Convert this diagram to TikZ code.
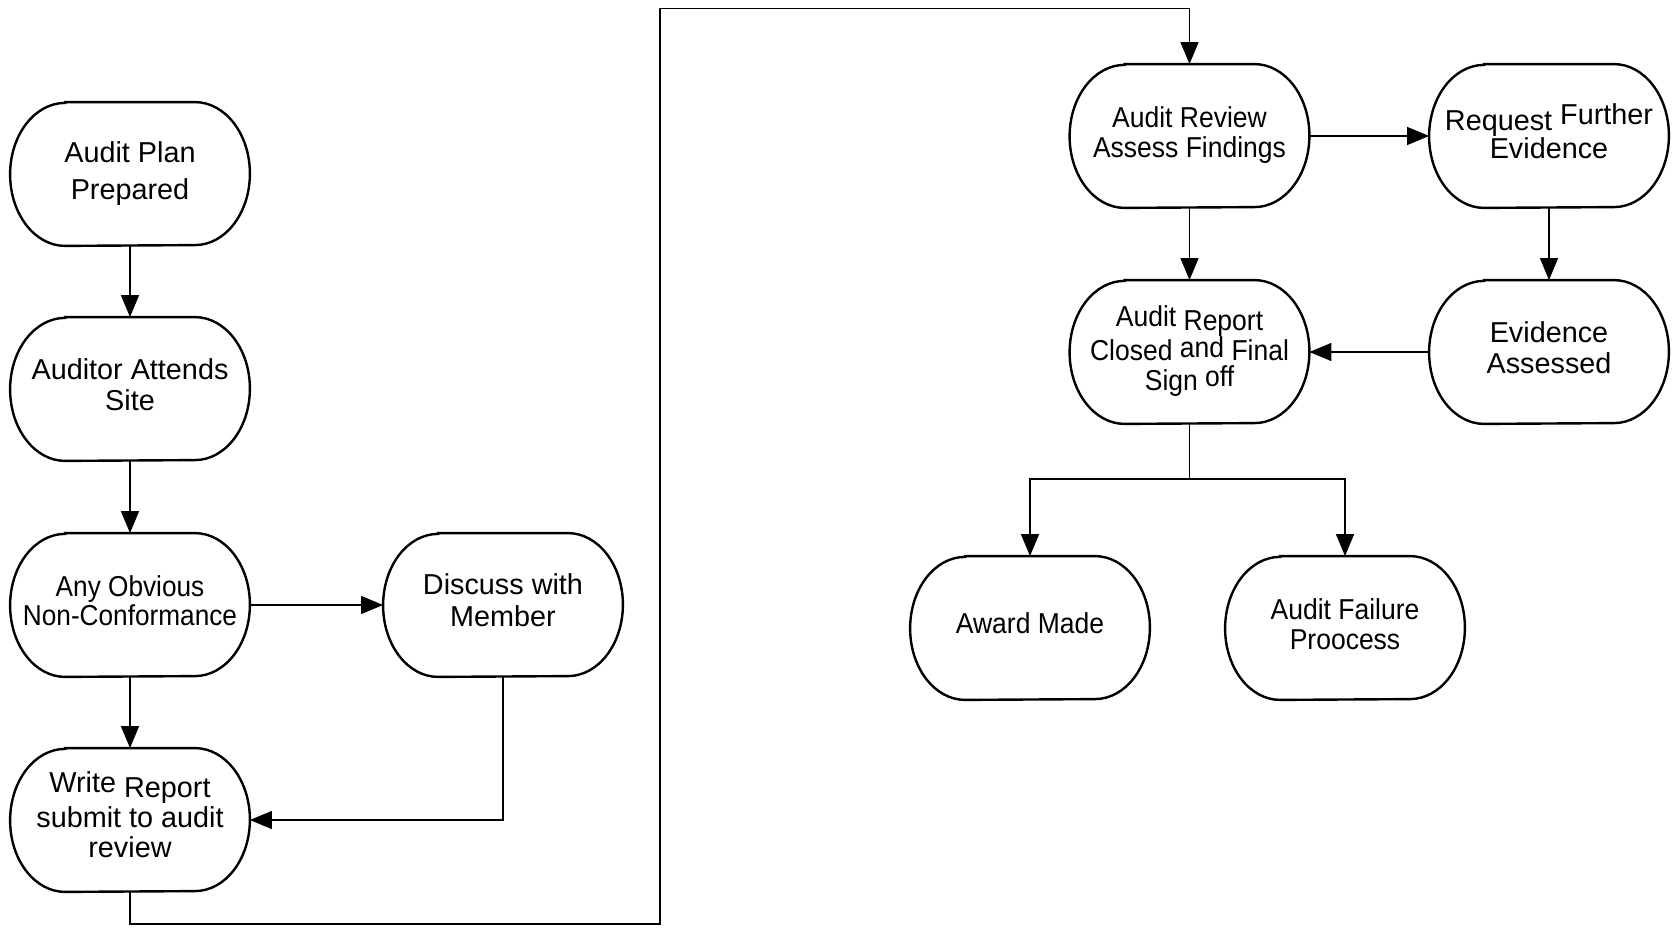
\documentclass[tikz,border=0pt]{standalone}
\usepackage{fontspec}
\setmainfont{Liberation Sans}
\newfontfamily\condA[FakeStretch=0.92]{Liberation Sans}
\newfontfamily\condB[FakeStretch=0.91]{Liberation Sans}
\usetikzlibrary{arrows.meta}
\newcommand{\termshape}[1]{%
  \draw[boxline] ([xshift=27.5pt]#1.north west) -- ([xshift=-27.5pt]#1.north east)
    arc[start angle=90,end angle=-90,x radius=27.5pt,y radius=35.75pt]
    -- ([xshift=27.5pt]#1.south west)
    arc[start angle=270,end angle=90,x radius=27.5pt,y radius=35.75pt] -- cycle;}
\begin{document}
\begin{tikzpicture}[x=0.5pt,y=-0.5pt,
  termbox/.style={draw=none, minimum width=119.5pt, minimum height=71.5pt, inner sep=0pt},
  lbl/.style={inner sep=0pt, align=center, font=\fontsize{14.4}{15.5}\selectfont},
  boxline/.style={line width=1.2pt, black},
  arr/.style={line width=0.65pt, -{Triangle[length=11pt,width=9pt]}},
  conn/.style={line width=0.65pt}]
\useasboundingbox (0,0) rectangle (1674,930);

\node[termbox] (plan) at (130,174) {};
\node[termbox] (att) at (130,389) {};
\node[termbox] (any) at (130,605) {};
\node[termbox] (disc) at (503,605) {};
\node[termbox] (write) at (130,820) {};
\node[termbox] (rev) at (1189.5,136) {};
\node[termbox] (req) at (1549,136) {};
\node[termbox] (rep) at (1189.5,352) {};
\node[termbox] (evi) at (1549,352) {};
\node[termbox] (award) at (1030,628) {};
\node[termbox] (fail) at (1345,628) {};

\foreach \n in {plan,att,any,disc,write,rev,req,rep,evi,award,fail} {\termshape{\n}}

\node[lbl, font=\fontsize{14.4}{18.5}\selectfont] (plan-t) at ([yshift=0pt]plan.center) {Audit Plan\\Prepared};
\node[lbl] (att-t) at ([yshift=2.2pt]att.center) {Auditor Attends\\Site};
\node[lbl, font=\condB\fontsize{14.4}{14.5}\selectfont] (any-t) at ([yshift=2.2pt]any.center) {Any Obvious\\Non-Conformance};
\node[lbl, font=\fontsize{14.4}{16}\selectfont] (disc-t) at ([yshift=2.4pt]disc.center) {Discuss with\\Member};
\node[lbl, font=\fontsize{14.4}{15}\selectfont] (write-t) at ([yshift=2.5pt]write.center) {\raisebox{2.5pt}{Write} Report\\submit to audit\\review};
\node[lbl, font=\condA\fontsize{14.4}{15}\selectfont] (rev-t) at ([yshift=0.6pt]rev.center) {Audit Review\\Assess Findings};
\node[lbl, font=\fontsize{14.4}{14}\selectfont] (req-t) at ([yshift=2.5pt]req.center) {Request \raisebox{3pt}{Further}\\Evidence};
\node[lbl, font=\condA\fontsize{14.4}{15}\selectfont] (rep-t) at ([yshift=0.6pt]rep.center) {\raisebox{2pt}{Audit} Report\\Closed \raisebox{1.5pt}{and} Final\\Sign \raisebox{2pt}{off}};
\node[lbl, font=\fontsize{14.4}{15.5}\selectfont] (evi-t) at ([yshift=2.2pt]evi.center) {Evidence\\Assessed};
\node[lbl, font=\condA\fontsize{14.4}{15}\selectfont] (award-t) at ([yshift=2.2pt]award.center) {Award Made};
\node[lbl, font=\condA\fontsize{14.4}{15}\selectfont] (fail-t) at ([yshift=1.8pt]fail.center) {Audit Failure\\Proocess};

\coordinate (c2) at (660,924);
\coordinate (c3) at (660,8.5);
\coordinate (split) at (1189.5,479);

\draw[arr] (plan) -- (att);
\draw[arr] (att) -- (any);
\draw[arr] (any) -- (write);
\draw[arr] (any) -- (disc);
\draw[arr] (disc.south) |- (write.east);
\draw[arr] (write.south) |- (c2) -- (c3) -| (rev.north);
\draw[arr] (rev) -- (req);
\draw[arr] (rev) -- (rep);
\draw[arr] (req) -- (evi);
\draw[arr] (evi) -- (rep);
\draw[conn] (rep.south) -- (split);
\draw[arr] (split) -| (award.north);
\draw[arr] (split) -| (fail.north);
\end{tikzpicture}
\end{document}
